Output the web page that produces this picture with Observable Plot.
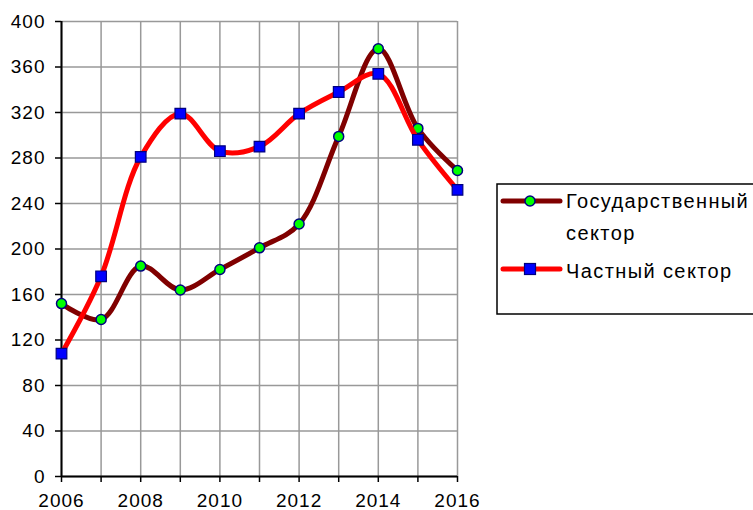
<!DOCTYPE html>
<html><head><meta charset="utf-8">
<script src="https://cdn.jsdelivr.net/npm/d3@7"></script>
<script src="https://cdn.jsdelivr.net/npm/@observablehq/plot@0.6"></script>
<style>body{margin:0;background:#fff;overflow:hidden}</style>
</head><body><div id="chart"></div>
<script>
const years = [2006, 2007, 2008, 2009, 2010, 2011, 2012, 2013, 2014, 2015, 2016];
const stateSector = [152, 138, 185, 164, 182, 201, 222, 299, 376, 306, 269];
const privateSector = [108, 176, 281, 319, 286, 290, 319, 338, 354, 296, 252];
const seriesNames = ["Государственный сектор", "Частный сектор"];
const legendLines = [["Государственный", "сектор"], ["Частный сектор"]];
const yTicks = [0, 40, 80, 120, 160, 200, 240, 280, 320, 360, 400];
const xLabelYears = [2006, 2008, 2010, 2012, 2014, 2016];

const stateData = years.map((year, i) => ({year, value: stateSector[i]}));
const privateData = years.map((year, i) => ({year, value: privateSector[i]}));

const FONT = "'Liberation Sans', Arial, sans-serif";
const gridStyle = {stroke: "#999", strokeOpacity: 1, strokeWidth: 1.5};

const chart = Plot.plot({
  width: 753, height: 510,
  marginLeft: 61, marginRight: 296, marginTop: 21, marginBottom: 34,
  style: {fontFamily: FONT, fontSize: "19px", color: "#000", background: "#fff", letterSpacing: "1px"},
  x: {domain: [2006, 2016]},
  y: {domain: [0, 400]},
  marks: [
    Plot.gridX(years, gridStyle),
    Plot.gridY(yTicks, gridStyle),
    Plot.axisY(yTicks, {tickSize: 6, tickPadding: 10, label: null, tickFormat: d => String(d), strokeWidth: 1.5}),
    Plot.axisX(years, {tickSize: 6, tickPadding: 11, label: null, strokeWidth: 1.5,
      tickFormat: d => xLabelYears.includes(d) ? String(d) : ""}),
    Plot.ruleX([2006], {stroke: "#000", strokeWidth: 2}),
    Plot.ruleY([0], {stroke: "#000", strokeWidth: 2}),
    Plot.line(stateData, {x: "year", y: "value", stroke: "#800000", strokeWidth: 5, curve: "catmull-rom"}),
    Plot.dot(stateData, {x: "year", y: "value", symbol: "circle", r: 5, fill: "#00ff00", stroke: "#000080", strokeWidth: 1.5}),
    Plot.line(privateData, {x: "year", y: "value", stroke: "#ff0000", strokeWidth: 5, curve: "catmull-rom"}),
    Plot.dot(privateData, {x: "year", y: "value", symbol: "square", r: 6, fill: "#0000ff", stroke: "#000080", strokeWidth: 1.2})
  ]
});

// Legend (drawn in the SVG, to the right of the plot)
const svg = d3.select(chart);
const lg = svg.append("g").attr("font-family", FONT).attr("font-size", 20)
  .attr("letter-spacing", "1.4px").attr("text-anchor", "start");
lg.append("rect").attr("x", 497).attr("y", 184).attr("width", 300).attr("height", 130)
  .attr("fill", "#fff").attr("stroke", "#000").attr("stroke-width", 1.5);
const entries = [
  {color: "#800000", sym: "circle", lineY: 201, texts: legendLines[0], baseY: 208},
  {color: "#ff0000", sym: "square", lineY: 269, texts: legendLines[1], baseY: 278}
];
entries.forEach(e => {
  lg.append("line").attr("x1", 503).attr("x2", 560).attr("y1", e.lineY).attr("y2", e.lineY)
    .attr("stroke", e.color).attr("stroke-width", 5).attr("stroke-linecap", "round");
  if (e.sym === "circle") {
    lg.append("circle").attr("cx", 530).attr("cy", e.lineY).attr("r", 5)
      .attr("fill", "#00ff00").attr("stroke", "#000080").attr("stroke-width", 1.5);
  } else {
    lg.append("rect").attr("x", 524.5).attr("y", e.lineY - 5.5).attr("width", 11).attr("height", 11)
      .attr("fill", "#0000ff").attr("stroke", "#000080").attr("stroke-width", 1.2);
  }
  e.texts.forEach((t, k) => {
    lg.append("text").attr("x", 566).attr("y", e.baseY + k * 32).attr("fill", "#000").text(t);
  });
});

document.getElementById("chart").appendChild(chart);
</script>
</body></html>
